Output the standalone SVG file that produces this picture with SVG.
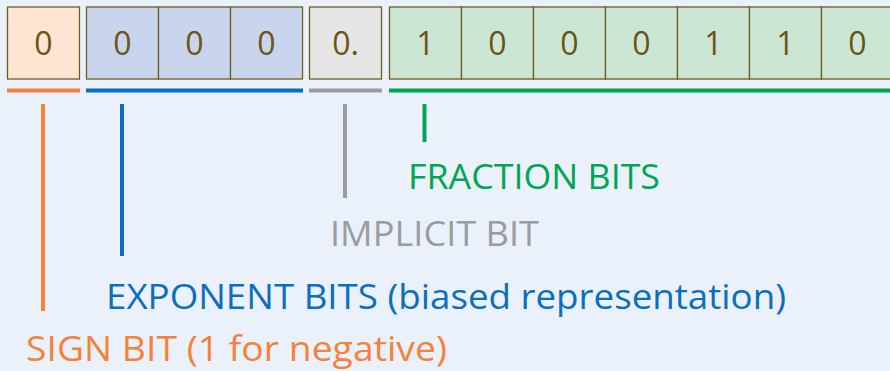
<svg xmlns="http://www.w3.org/2000/svg" width="890" height="371" viewBox="0 0 890 371">
<style>
.cell{stroke:#6e5d22;stroke-width:1.3}
.s{fill:#fee4d1}.e{fill:#c9d5ec}.i{fill:#e6e6e6}.f{fill:#cce6d4}
.d{font-family:"Open Sans","Noto Sans",sans-serif;font-size:32px;fill:#6b5514;text-anchor:middle}
.lbl{font-family:"Open Sans","Noto Sans",sans-serif;font-size:35px}
.or{stroke:#f4823a}.bl{stroke:#0a6fbc}.gr{stroke:#9b9ca0}.gn{stroke:#00a651}
</style>
<rect width="890" height="371" fill="#eaf1fa"/>
<g id="sign">
<rect class="cell s" x="7.5" y="7" width="72" height="72"/>
<text class="d" x="43.5" y="55">0</text>
</g>
<g id="exponent">
<rect class="cell e" x="86.5" y="7" width="72" height="72"/>
<rect class="cell e" x="158.5" y="7" width="72" height="72"/>
<rect class="cell e" x="230.5" y="7" width="72" height="72"/>
<text class="d" x="122.5" y="55">0</text>
<text class="d" x="194.5" y="55">0</text>
<text class="d" x="266.5" y="55">0</text>
</g>
<g id="implicit">
<rect class="cell i" x="309.5" y="7" width="72" height="72"/>
<text class="d" x="345.5" y="55">0.</text>
</g>
<g id="fraction">
<rect class="cell f" x="389.5" y="7" width="72" height="72"/>
<rect class="cell f" x="461.5" y="7" width="72" height="72"/>
<rect class="cell f" x="533.5" y="7" width="72" height="72"/>
<rect class="cell f" x="605.5" y="7" width="72" height="72"/>
<rect class="cell f" x="677.5" y="7" width="72" height="72"/>
<rect class="cell f" x="749.5" y="7" width="72" height="72"/>
<rect class="cell f" x="821.5" y="7" width="72" height="72"/>
<text class="d" x="425.5" y="55">1</text>
<text class="d" x="497.5" y="55">0</text>
<text class="d" x="569.5" y="55">0</text>
<text class="d" x="641.5" y="55">0</text>
<text class="d" x="713.5" y="55">1</text>
<text class="d" x="785.5" y="55">1</text>
<text class="d" x="857.5" y="55">0</text>
</g>
<g id="connectors" stroke-width="4" fill="none">
<line class="or" x1="7" y1="90.5" x2="80" y2="90.5"/>
<line class="bl" x1="86" y1="90.5" x2="303" y2="90.5"/>
<line class="gr" x1="309" y1="90.5" x2="382" y2="90.5"/>
<line class="gn" x1="389" y1="90.5" x2="890" y2="90.5"/>
<line class="or" x1="43" y1="104" x2="43" y2="311"/>
<line class="bl" x1="122" y1="104" x2="122" y2="256"/>
<line class="gr" x1="345" y1="104" x2="345" y2="198"/>
<line class="gn" x1="424.5" y1="104" x2="424.5" y2="142"/>
</g>
<g id="labels">
<text class="lbl" x="408" y="189" fill="#00a651" textLength="252" lengthAdjust="spacingAndGlyphs">FRACTION BITS</text>
<text class="lbl" x="330" y="246" fill="#9b9ca0" textLength="209" lengthAdjust="spacingAndGlyphs">IMPLICIT BIT</text>
<text class="lbl" x="106" y="309" fill="#0a6fbc" textLength="680" lengthAdjust="spacingAndGlyphs">EXPONENT BITS (biased representation)</text>
<text class="lbl" x="26" y="361" fill="#f4823a" textLength="421" lengthAdjust="spacingAndGlyphs">SIGN BIT (1 for negative)</text>
</g>
</svg>
